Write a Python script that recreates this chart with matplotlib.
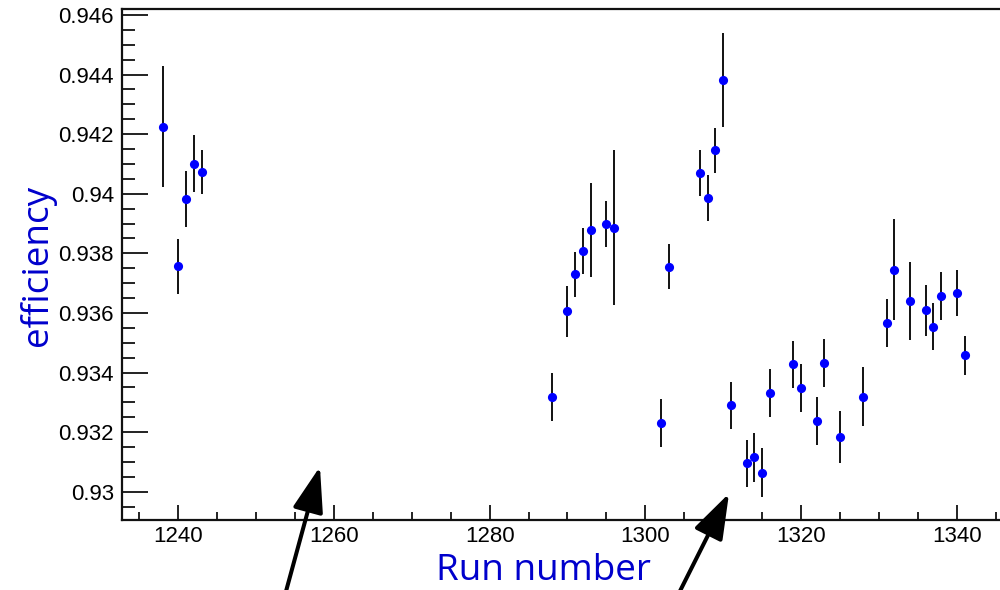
import matplotlib
matplotlib.use("Agg")
import matplotlib.pyplot as plt
from matplotlib.ticker import MultipleLocator

# run numbers and measured efficiency with errors
runs = [1238, 1240, 1241, 1242, 1243,
        1288, 1290, 1291, 1292, 1293, 1295, 1296,
        1302, 1303, 1307, 1308, 1309, 1310, 1311,
        1313, 1314, 1315, 1316, 1319, 1320, 1322, 1323, 1325, 1328,
        1331, 1332, 1334, 1336, 1337, 1338, 1340, 1341]
eff = [0.94225, 0.93756, 0.93982, 0.94101, 0.94074,
       0.93318, 0.93605, 0.93730, 0.93809, 0.93878, 0.93898, 0.93886,
       0.93231, 0.93755, 0.94069, 0.93985, 0.94146, 0.94382, 0.93290,
       0.93095, 0.93116, 0.93064, 0.93331, 0.93427, 0.93348, 0.93238, 0.93431, 0.93184, 0.93319,
       0.93566, 0.93745, 0.93640, 0.93609, 0.93554, 0.93656, 0.93666, 0.93458]
err = [0.00203, 0.00093, 0.00095, 0.00096, 0.00074,
       0.00080, 0.00085, 0.00076, 0.00077, 0.00158, 0.00078, 0.00260,
       0.00080, 0.00076, 0.00077, 0.00077, 0.00076, 0.00159, 0.00078,
       0.00080, 0.00082, 0.00082, 0.00080, 0.00080, 0.00080, 0.00081, 0.00080, 0.00088, 0.00098,
       0.00082, 0.00170, 0.00130, 0.00085, 0.00080, 0.00080, 0.00078, 0.00066]

# arrows: tips in data coords, tails in figure fraction
arrow_tips = [(1258.2, 0.93084), (1310.75, 0.92994)]
arrow_tails = [(0.285, -0.0085), (0.678, -0.0085)]

fig = plt.figure(figsize=(10, 5.9), dpi=100)
ax = fig.add_axes([0.1223, 0.1186, 0.8777, 0.8653])

ax.errorbar(runs, eff, yerr=err, fmt='o', color='#0000ff', ms=6.6,
            ecolor='#111111', elinewidth=1.4, capsize=4, capthick=1.6,
            markeredgewidth=0, zorder=3)

ax.set_xlim(1232.81, 1345.56)
ax.set_ylim(0.929048, 0.946185)

ax.xaxis.set_major_locator(MultipleLocator(20))
ax.xaxis.set_minor_locator(MultipleLocator(5))
ax.yaxis.set_major_locator(MultipleLocator(0.002))
ax.yaxis.set_minor_locator(MultipleLocator(0.0005))
ax.yaxis.set_major_formatter(plt.FuncFormatter(lambda v, p: ('%.3f' % v).rstrip('0')))

ax.tick_params(which='both', direction='in', width=1.3, colors='#111111',
               labelsize=16, labelcolor='black')
ax.tick_params(axis='y', which='major', length=19, pad=6)
ax.tick_params(axis='y', which='minor', length=9.5)
ax.tick_params(axis='x', which='major', length=11, pad=4)
ax.tick_params(axis='x', which='minor', length=5.5)
for lbl in ax.get_xticklabels() + ax.get_yticklabels():
    lbl.set_family('Liberation Sans')

for s in ['left', 'bottom', 'top']:
    ax.spines[s].set_linewidth(1.6)
    ax.spines[s].set_color('#111111')
ax.spines['right'].set_visible(False)

fig.text(0.543, 0.0170, 'Run number', family='Open Sans', fontsize=26.6,
         color='#0000cc', ha='center', va='baseline')
fig.text(0.038, 0.5508, 'efficiency', family='Open Sans', fontsize=26.6,
         color='#0000cc', ha='center', va='center', rotation=90)

for tip, tail in zip(arrow_tips, arrow_tails):
    ax.annotate('', xy=tip, xycoords='data', xytext=tail,
                textcoords='figure fraction',
                arrowprops=dict(arrowstyle='-|>,head_length=2.8,head_width=0.95',
                                color='black', lw=2.9, shrinkA=0, shrinkB=0),
                annotation_clip=False)

fig.savefig('out.png', dpi=100)
